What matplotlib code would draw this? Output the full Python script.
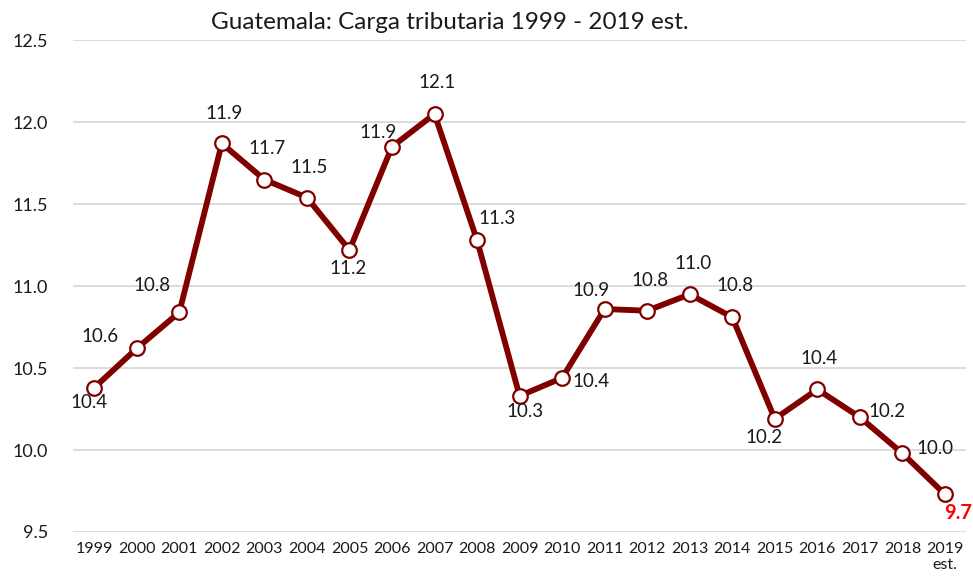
import matplotlib.pyplot as plt

plt.rcParams["font.family"] = ["Lato", "DejaVu Sans"]

years = ["1999", "2000", "2001", "2002", "2003", "2004", "2005", "2006", "2007",
         "2008", "2009", "2010", "2011", "2012", "2013", "2014", "2015", "2016",
         "2017", "2018", "2019\nest."]
carga = [10.38, 10.62, 10.84, 11.87, 11.65, 11.54, 11.22, 11.85, 12.05, 11.28,
         10.33, 10.44, 10.86, 10.85, 10.95, 10.81, 10.19, 10.37, 10.20, 9.98, 9.73]
labels = ["10.4", "10.6", "10.8", "11.9", "11.7", "11.5", "11.2", "11.9", "12.1",
          "11.3", "10.3", "10.4", "10.9", "10.8", "11.0", "10.8", "10.2", "10.4",
          "10.2", "10.0", "9.7"]

# label offsets in pixels (dx, dy; dy positive = up)
offsets = [(-5, -15), (-37, 12), (-27, 27), (2, 30), (3, 31), (2, 30), (-1, -18),
           (-14, 14), (3, 31), (20, 22), (5, -16), (29, -4), (-14, 19), (3, 30),
           (3, 31), (3, 32), (-11, -19), (2, 31), (27, 6), (33, 5), (13, -19)]

red = "#800000"
x = list(range(len(years)))

fig = plt.figure(figsize=(9.73, 5.83), dpi=100)
ax = fig.add_axes([0.075, 0.0875, 0.918, 0.8435])

ax.plot(x, carga, color=red, linewidth=4.2, marker="o", markersize=10.5,
        markerfacecolor="white", markeredgecolor=red, markeredgewidth=1.6,
        zorder=3)

for i, (val, lab) in enumerate(zip(carga, labels)):
    dx, dy = offsets[i]
    last = i == len(carga) - 1
    ax.annotate(lab, (i, val), xytext=(dx, dy), textcoords="offset pixels",
                ha="center", va="center",
                fontsize=14.5 if last else 13.5,
                color="#FF0000" if last else "#1a1a1a",
                fontweight="bold" if last else "normal", zorder=4)

ax.set_xlim(-0.5, len(years) - 0.5)
ax.set_ylim(9.5, 12.5)
ax.set_yticks([9.5, 10.0, 10.5, 11.0, 11.5, 12.0, 12.5])
ax.set_yticklabels(["9.5", "10.0", "10.5", "11.0", "11.5", "12.0", "12.5"], fontsize=13)
ax.set_xticks(x)
ax.set_xticklabels(years, fontsize=11.5, linespacing=1.2, va="top")
ax.tick_params(length=0, colors="#1a1a1a")
ax.tick_params(axis="y", pad=18)
ax.tick_params(axis="x", pad=7)
ax.grid(axis="y", color="#D9D9D9", linewidth=1.3)
ax.set_axisbelow(True)
for s in ax.spines.values():
    s.set_visible(False)

fig.text(0.4625, 0.962, "Guatemala: Carga tributaria 1999 - 2019 est.",
         ha="center", va="center", fontsize=17.5, color="#1a1a1a")

fig.savefig("out.png", dpi=100)
